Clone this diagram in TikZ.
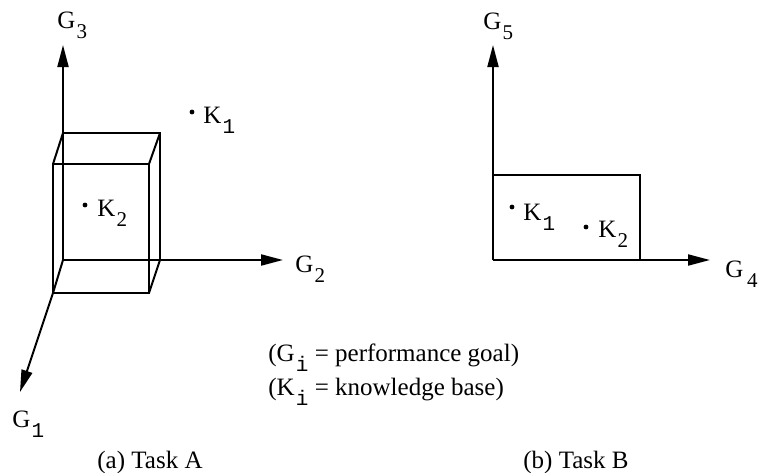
\documentclass[tikz,border=0pt]{standalone}
\usepackage{fontspec}
\setmainfont{Liberation Serif}
\newfontfamily\subfont{Liberation Mono}
\usetikzlibrary{arrows.meta}
\tikzset{axis/.style={-{Triangle[length=11pt,width=5.5pt]},line width=1pt},
         edge/.style={line width=1pt},
         lbl/.style={inner sep=0pt,anchor=base west,font=\fontsize{12.5}{15}\selectfont},
         dot/.style={circle,fill,inner sep=0pt,minimum size=2.4pt}}
\newcommand\low[1]{\kern.6pt\raisebox{-5pt}{\fontsize{10.5}{10.5}\selectfont #1}}
\newcommand\lowt[1]{\kern.6pt\raisebox{-5pt}{\subfont\fontsize{10.5}{10.5}\selectfont #1}}

\begin{document}
\begin{tikzpicture}[x=.5pt,y=-.5pt]
  \useasboundingbox (0,0) rectangle (759,472);
  % (a) three goals
  \coordinate (oA) at (63,260); \coordinate (fA) at (53,293);
  \coordinate (g3tip) at (63,45); \coordinate (g2tip) at (283,260);
  \coordinate (g1tip) at (20,392);
  \draw[axis] (oA)--(g3tip); \draw[axis] (oA)--(g2tip); \draw[axis] (fA)--(g1tip);
  \draw[edge] (63,133) rectangle (160,260);
  \draw[edge] (53,164) rectangle (149,293);
  \draw[edge] (53,164)--(63,133) (149,164)--(160,133) (149,293)--(160,260)
    (fA)--(oA);
  \node[lbl] (g3) at (57,28) {G\low{3}};
  \node[lbl] (g2) at (295,272) {G\low{2}};
  \node[lbl] (g1) at (12,427) {G\lowt{1}};
  \node[dot] (k1a) at (192,112) {}; \node[lbl] (k1alab) at (203,123) {K\lowt{1}};
  \node[dot] (k2a) at (85,205) {}; \node[lbl] (k2alab) at (97,216) {K\low{2}};
  % (b) two goals
  \coordinate (oB) at (493,260);
  \coordinate (g5tip) at (493,45); \coordinate (g4tip) at (710,260);
  \draw[axis] (oB)--(g5tip); \draw[axis] (oB)--(g4tip);
  \draw[edge] (493,175)--(640,175)--(640,260);
  \node[lbl] (g5) at (483,29) {G\low{5}};
  \node[lbl] (g4) at (725,277) {G\kern1.2pt\low{4}};
  \node[dot] (k1b) at (512,207) {}; \node[lbl] (k1blab) at (523,220) {K\lowt{1}};
  \node[dot] (k2b) at (586,227) {}; \node[lbl] (k2blab) at (598,237) {K\low{2}};
  % legend and captions
  \node[lbl] (gleg) at (268,361) {(G\lowt{i} = performance goal)};
  \node[lbl] (kleg) at (268,395) {(K\lowt{i} = knowledge base)};
  \node[lbl] (capa) at (97,468) {(a) Task A};
  \node[lbl] (capb) at (523,468) {(b) Task B};
\end{tikzpicture}
\end{document}
